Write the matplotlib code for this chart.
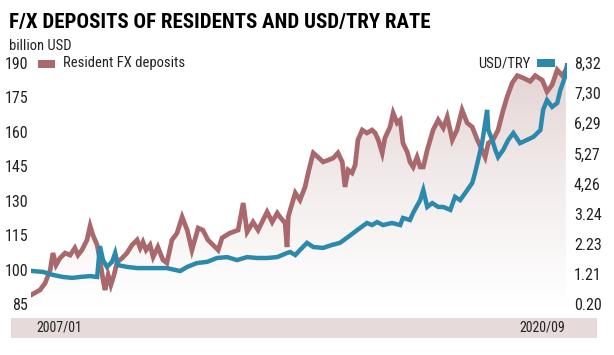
import numpy as np
import matplotlib.pyplot as plt
from matplotlib import font_manager
from matplotlib.colors import LinearSegmentedColormap
from matplotlib.patches import Rectangle

# Resident FX deposits (billion USD), x in decimal years
dep_years = [2007.00, 2007.23, 2007.36, 2007.49, 2007.56, 2007.64, 2007.74, 2007.87,
             2008.00, 2008.12, 2008.20, 2008.30, 2008.43, 2008.51, 2008.58, 2008.69,
             2008.76, 2008.84, 2008.89, 2008.97, 2009.04, 2009.12, 2009.20, 2009.33,
             2009.45, 2009.58, 2009.71, 2009.79, 2009.86, 2009.94, 2010.04, 2010.12,
             2010.24, 2010.37, 2010.47, 2010.60, 2010.73, 2010.86, 2010.99, 2011.11,
             2011.27, 2011.39, 2011.52, 2011.65, 2011.78, 2011.88, 2012.08, 2012.29,
             2012.42, 2012.52, 2012.67, 2012.80, 2013.03, 2013.16, 2013.29, 2013.36,
             2013.49, 2013.54, 2013.57, 2013.62, 2013.75, 2013.87, 2014.00, 2014.08,
             2014.18, 2014.21, 2014.33, 2014.46, 2014.59, 2014.72, 2014.84, 2014.95,
             2015.02, 2015.10, 2015.20, 2015.28, 2015.35, 2015.46, 2015.58, 2015.71,
             2015.79, 2015.87, 2015.97, 2016.04, 2016.17, 2016.25, 2016.35, 2016.43,
             2016.50, 2016.61, 2016.68, 2016.76, 2016.86, 2016.94, 2017.02, 2017.12,
             2017.27, 2017.40, 2017.53, 2017.63, 2017.76, 2017.88, 2018.01, 2018.14,
             2018.27, 2018.40, 2018.52, 2018.60, 2018.68, 2018.80, 2018.93, 2019.06,
             2019.16, 2019.29, 2019.42, 2019.57, 2019.75, 2019.88, 2020.06, 2020.18,
             2020.31, 2020.44, 2020.57, 2020.66]
dep_values = [88.9, 91.1, 94.1, 99.8, 107.2, 102.0, 105.0, 107.2,
              106.3, 109.4, 106.3, 108.5, 112.9, 119.0, 115.1, 110.7,
              104.2, 95.5, 91.1, 97.6, 93.3, 97.6, 103.3, 105.0,
              107.2, 110.7, 112.9, 109.4, 112.0, 108.5, 110.7, 105.5,
              109.8, 104.2, 102.9, 112.9, 115.9, 122.9, 117.2, 108.5,
              118.1, 117.2, 112.9, 110.7, 108.5, 113.8, 115.9, 117.2,
              129.0, 116.4, 120.7, 117.2, 125.1, 120.7, 124.6, 122.9,
              120.3, 109.8, 122.9, 126.0, 133.4, 130.3, 136.0, 142.1,
              149.0, 150.8, 149.0, 146.9, 147.7, 148.6, 150.8, 146.9,
              136.0, 143.4, 142.1, 145.6, 156.5, 160.8, 159.5, 160.8,
              159.5, 156.5, 150.8, 157.3, 162.1, 168.2, 163.9, 165.2,
              155.1, 151.2, 146.9, 144.7, 149.0, 144.7, 144.7, 152.1,
              160.8, 165.2, 161.7, 166.5, 156.5, 160.8, 169.5, 163.9,
              162.1, 156.5, 152.1, 149.0, 155.1, 156.5, 160.8, 169.5,
              175.2, 181.3, 184.5, 183.5, 182.0, 184.5, 182.5, 177.5,
              180.5, 187.0, 184.5, 187.0]

# USD/TRY rate
try_years = [2007.05, 2007.31, 2007.56, 2007.82, 2008.05, 2008.25, 2008.51, 2008.69,
             2008.76, 2008.84, 2008.94, 2009.07, 2009.15, 2009.22, 2009.45, 2009.71,
             2009.96, 2010.22, 2010.47, 2010.81, 2010.99, 2011.24, 2011.50, 2011.75,
             2012.01, 2012.26, 2012.52, 2012.77, 2013.03, 2013.29, 2013.54, 2013.62,
             2013.75, 2013.87, 2014.05, 2014.21, 2014.46, 2014.69, 2014.89, 2015.10,
             2015.33, 2015.58, 2015.71, 2015.84, 2015.99, 2016.22, 2016.43, 2016.50,
             2016.68, 2016.76, 2016.94, 2017.02, 2017.12, 2017.25, 2017.40, 2017.53,
             2017.71, 2017.83, 2017.96, 2018.09, 2018.27, 2018.34, 2018.42, 2018.52,
             2018.60, 2018.65, 2018.68, 2018.78, 2018.86, 2018.93, 2019.06, 2019.19,
             2019.32, 2019.49, 2019.67, 2019.83, 2020.01, 2020.08, 2020.18, 2020.31,
             2020.44, 2020.52, 2020.64, 2020.69]
try_values = [1.31, 1.28, 1.18, 1.11, 1.08, 1.11, 1.14, 1.11,
              2.15, 1.68, 1.45, 1.62, 1.92, 1.51, 1.45, 1.41,
              1.41, 1.41, 1.41, 1.31, 1.45, 1.58, 1.62, 1.75,
              1.78, 1.68, 1.78, 1.75, 1.75, 1.78, 1.92, 1.95,
              1.85, 2.02, 2.26, 2.12, 2.09, 2.19, 2.26, 2.46,
              2.69, 2.93, 2.86, 2.96, 2.86, 2.93, 2.86, 3.10,
              3.03, 3.27, 3.70, 4.04, 3.47, 3.60, 3.47, 3.47,
              3.37, 3.81, 3.70, 3.94, 4.28, 4.61, 5.05, 5.62,
              6.30, 6.74, 6.06, 5.73, 5.39, 5.15, 5.39, 5.73,
              5.96, 5.62, 5.73, 5.83, 6.06, 6.74, 7.07, 6.84,
              6.97, 7.41, 7.85, 8.25]

left_ticks = [85, 100, 115, 130, 145, 160, 175, 190]
right_ticks = [0.20, 1.21, 2.23, 3.24, 4.26, 5.27, 6.29, 7.30, 8.32]
right_labels = ['0.20', '1.21', '2.23', '3.24', '4,26', '5,27', '6,29', '7,30', '8,32']

BROWN = '#a9686c'
TEAL = '#2b8aab'
BAND = '#e6dada'
W, H = 614, 355


def fx(px):
    return px / W


def fy(py):
    return 1 - py / H


def narrow_font():
    # pick the narrowest installed sans we can find
    names = {f.name: f for f in font_manager.fontManager.ttflist}
    for n in ['Liberation Sans Narrow', 'DejaVu Sans Condensed', 'Roboto Condensed',
              'Open Sans Condensed']:
        if n in names:
            return dict(family=n)
    for f in font_manager.fontManager.ttflist:
        if f.name == 'DejaVu Sans' and 'condensed' in str(f.stretch).lower():
            return dict(family='DejaVu Sans', stretch='condensed')
    return dict(family='Roboto')


def main():
    fnt = narrow_font()
    plt.rcParams['font.family'] = [fnt['family'], 'DejaVu Sans']
    if 'stretch' in fnt:
        plt.rcParams['font.stretch'] = fnt['stretch']
    fig = plt.figure(figsize=(W / 100, H / 100), dpi=100)

    # axes area matched to the reference pixel box
    ax = fig.add_axes([fx(31), fy(304), (567 - 31) / W, (304 - 63) / H])
    ax2 = ax.twinx()

    # gradient fill below the deposits line
    poly = ax.fill_between(dep_years, dep_values, 85, facecolor='none', edgecolor='none')
    cmap = LinearSegmentedColormap.from_list('fade', ['#ffffff', '#f3ecec', '#e3d3d3'])
    grad = np.linspace(0, 1, 256).reshape(-1, 1)
    im = ax.imshow(grad, extent=[2007.0, 2020.7, 85, 190], origin='lower',
                   aspect='auto', cmap=cmap, zorder=0)
    im.set_clip_path(poly.get_paths()[0], transform=ax.transData)

    ax.plot(dep_years, dep_values, color=BROWN, lw=3.4, solid_joinstyle='miter', zorder=2)
    ax2.plot(try_years, try_values, color=TEAL, lw=3.2, solid_joinstyle='miter', zorder=3)

    ax.set_xlim(2007.0, 2020.69)
    ax.set_ylim(85, 190)
    ax2.set_ylim(0.20, 8.32)

    for a in (ax, ax2):
        for s in a.spines.values():
            s.set_visible(False)
        a.set_xticks([])
    ax.set_yticks(left_ticks)
    ax.set_yticklabels([str(t) for t in left_ticks])
    ax.tick_params(axis='y', length=0, pad=2, labelsize=11.5, colors='#222222')
    ax2.set_yticks(right_ticks)
    ax2.set_yticklabels(right_labels)
    ax2.tick_params(axis='y', length=0, pad=5, labelsize=11.5, colors='#222222')

    # title and unit
    fig.text(fx(9), fy(28), 'F/X DEPOSITS OF RESIDENTS AND USD/TRY RATE',
             fontsize=15, fontweight='bold', va='baseline', ha='left')
    fig.text(fx(9), fy(50), 'billion USD', fontsize=10.5, va='baseline', ha='left',
             color='#222222')

    # legends
    fig.add_artist(Rectangle((fx(38), fy(68)), 17 / W, 8 / H, transform=fig.transFigure,
                             color=BROWN, lw=0))
    fig.text(fx(63), fy(63.5), 'Resident FX deposits', fontsize=10.5, va='center',
             ha='left', color='#222222')
    fig.text(fx(530), fy(63.5), 'USD/TRY', fontsize=10.5, va='center', ha='right',
             color='#222222')
    fig.add_artist(Rectangle((fx(537), fy(67)), 18 / W, 8 / H, transform=fig.transFigure,
                             color=TEAL, lw=0))

    # bottom band with date range
    fig.add_artist(Rectangle((fx(11), fy(338)), (597 - 11) / W, 20 / H,
                             transform=fig.transFigure, color=BAND, lw=0))
    fig.text(fx(36), fy(328), '2007/01', fontsize=10, va='center', ha='left',
             color='#222222')
    fig.text(fx(565), fy(328), '2020/09', fontsize=10, va='center', ha='right',
             color='#222222')

    fig.savefig('out.png', dpi=100)


if __name__ == "__main__":
    main()
